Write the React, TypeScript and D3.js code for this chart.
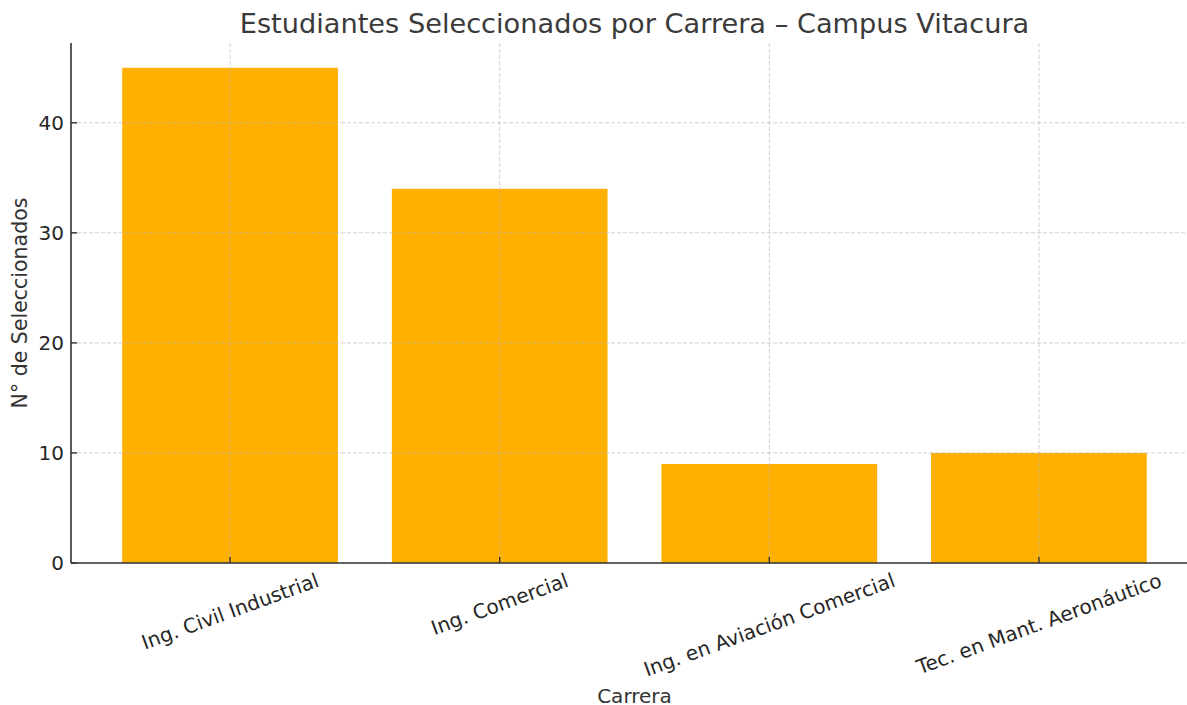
import React from "react";
import * as d3 from "d3";

const categories = [
  "Ing. Civil Industrial",
  "Ing. Comercial",
  "Ing. en Aviación Comercial",
  "Tec. en Mant. Aeronáutico",
];
const values = [45, 34, 9, 10];
const yTicks = [0, 10, 20, 30, 40];

const W = 1187;
const H = 705;
const left = 71;
const right = 1198;
const top = 43;
const bottom = 563;
const font = "DejaVu Sans, sans-serif";
const tickFs = 20;
const rot = 20;

function measure(text: string, fs: number): number {
  if (typeof document === "undefined") return text.length * fs * 0.55;
  const c = document.createElement("canvas");
  const ctx = c.getContext("2d");
  if (!ctx) return text.length * fs * 0.55;
  ctx.font = `${fs}px "DejaVu Sans"`;
  return ctx.measureText(text).width;
}

export default function App() {
  const n = categories.length;
  const x = d3.scaleLinear().domain([-0.59, n - 1 + 0.59]).range([left, right]);
  const y = d3.scaleLinear().domain([0, 45 * 1.05]).range([bottom, top]);
  const bw = x(0.8) - x(0);
  const rad = (rot * Math.PI) / 180;

  return (
    <svg width={W} height={H} style={{ position: "absolute", left: 0, top: 0 }}>
      <rect width={W} height={H} fill="#fff" />
      {values.map((v, i) => (
        <rect
          key={i}
          x={x(i) - bw / 2}
          y={y(v)}
          width={bw}
          height={y(0) - y(v)}
          fill="#FFB000"
        />
      ))}
      {/* grid */}
      {yTicks.map((t) => (
        <line
          key={"gy" + t}
          x1={left}
          x2={right}
          y1={y(t)}
          y2={y(t)}
          stroke="#b0b0b0"
          strokeOpacity={0.6}
          strokeWidth={1}
          strokeDasharray="4,2"
        />
      ))}
      {categories.map((c, i) => (
        <line
          key={"gx" + i}
          x1={x(i)}
          x2={x(i)}
          y1={top}
          y2={bottom}
          stroke="#b0b0b0"
          strokeOpacity={0.6}
          strokeWidth={1}
          strokeDasharray="4,2"
        />
      ))}
      {/* spines */}
      <line x1={left} x2={left} y1={top} y2={bottom} stroke="#333" strokeWidth={1.6} />
      <line x1={left} x2={right} y1={bottom} y2={bottom} stroke="#333" strokeWidth={1.6} />
      {/* y ticks */}
      {yTicks.map((t) => (
        <g key={"yt" + t}>
          <line x1={left} x2={left + 6} y1={y(t)} y2={y(t)} stroke="#333" strokeWidth={1.4} />
          <text
            x={left - 7}
            y={y(t)}
            dy="0.36em"
            textAnchor="end"
            fontFamily={font}
            fontSize={tickFs}
            fill="#262626"
          >
            {t}
          </text>
        </g>
      ))}
      {/* x ticks */}
      {categories.map((c, i) => {
        const L = measure(c, tickFs);
        const bh = L * Math.sin(rad) + 20 * Math.cos(rad);
        const cy = bottom + 7 + bh / 2;
        return (
          <g key={"xt" + i}>
            <line x1={x(i)} x2={x(i)} y1={bottom} y2={bottom - 6} stroke="#333" strokeWidth={1.4} />
            <text
              transform={`translate(${x(i)},${cy}) rotate(${-rot})`}
              textAnchor="middle"
              dy="0.35em"
              fontFamily={font}
              fontSize={tickFs}
              fill="#262626"
            >
              {c}
            </text>
          </g>
        );
      })}
      <text
        x={(left + right) / 2}
        y={33}
        textAnchor="middle"
        fontFamily={font}
        fontSize={27.2}
        fill="#3a3a3a"
      >
        Estudiantes Seleccionados por Carrera – Campus Vitacura
      </text>
      <text
        x={(left + right) / 2}
        y={703}
        textAnchor="middle"
        fontFamily={font}
        fontSize={20}
        fill="#333"
      >
        Carrera
      </text>
      <text
        transform={`translate(27,${(top + bottom) / 2}) rotate(-90)`}
        textAnchor="middle"
        fontFamily={font}
        fontSize={20.5}
        fill="#333"
      >
        N° de Seleccionados
      </text>
    </svg>
  );
}
